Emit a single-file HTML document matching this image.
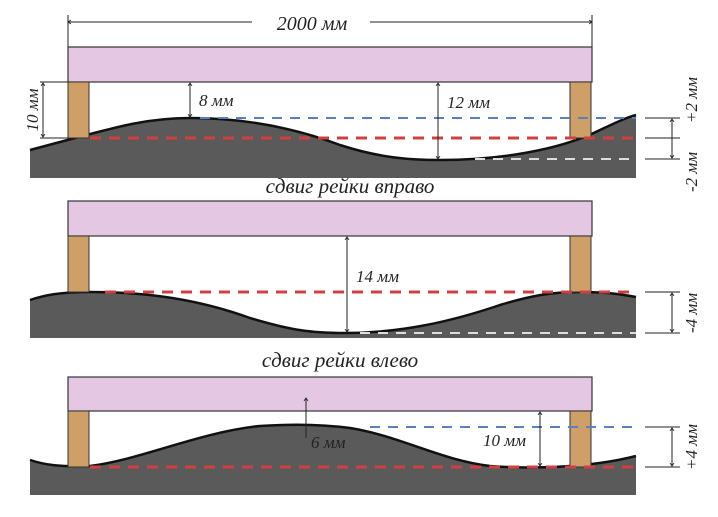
<!DOCTYPE html>
<html><head><meta charset="utf-8"><style>
html,body{margin:0;padding:0;background:#fff;}
svg{display:block;}
text{font-family:"Liberation Serif",serif;font-style:italic;fill:#222;}
</style></head><body>
<svg width="718" height="517" viewBox="0 0 718 517" xmlns="http://www.w3.org/2000/svg">
<defs>
<marker id="a" markerWidth="6" markerHeight="6" refX="3" refY="3" orient="auto-start-reverse"><path d="M0,1 L3,3 L0,5" fill="none" stroke="#222" stroke-width="0.8"/></marker>
</defs>
<!-- top dimension -->
<line x1="68" y1="22" x2="252" y2="22" stroke="#222" stroke-width="1" marker-start="url(#a)"/>
<line x1="370" y1="22" x2="592" y2="22" stroke="#222" stroke-width="1" marker-end="url(#a)"/>
<line x1="68" y1="15" x2="68" y2="47" stroke="#222"/>
<line x1="592" y1="15" x2="592" y2="47" stroke="#222"/>
<text x="312" y="30" font-size="20" text-anchor="middle">2000 мм</text>

<!-- PANEL 1 -->
<rect x="68" y="47" width="524" height="35" fill="#e3c7e3" stroke="#333" stroke-width="1.2"/>
<path d="M30,150 C45,146 60,142 75,138 C120,126 150,118 190,118 C250,118 300,130 340,145 C380,158 410,160 440,160 C500,160 560,150 600,130 C615,123 625,118 636,115 L636,178 L30,178 Z" fill="#5a5a5a"/>
<path d="M30,150 C45,146 60,142 75,138 C120,126 150,118 190,118 C250,118 300,130 340,145 C380,158 410,160 440,160 C500,160 560,150 600,130 C615,123 625,118 636,115" fill="none" stroke="#111" stroke-width="2.5"/>
<rect x="68" y="82" width="21" height="56" fill="#cf9f68" stroke="#333"/>
<rect x="570" y="82" width="21" height="56" fill="#cf9f68" stroke="#333"/>
<line x1="200" y1="118" x2="636" y2="118" stroke="#5a7fc0" stroke-width="2" stroke-dasharray="10,8"/>
<line x1="90" y1="138" x2="636" y2="138" stroke="#d04040" stroke-width="3" stroke-dasharray="11,8"/>
<line x1="475" y1="159" x2="636" y2="159" stroke="#ddd" stroke-width="2" stroke-dasharray="10,8"/>
<line x1="40" y1="82" x2="68" y2="82" stroke="#222"/>
<line x1="40" y1="138" x2="68" y2="138" stroke="#222"/>
<line x1="43" y1="83" x2="43" y2="137" stroke="#222" marker-start="url(#a)" marker-end="url(#a)"/>
<text transform="translate(38,110) rotate(-90)" font-size="17" text-anchor="middle">10 мм</text>
<line x1="190" y1="83" x2="190" y2="117" stroke="#222" marker-start="url(#a)" marker-end="url(#a)"/>
<text x="199" y="106" font-size="17">8 мм</text>
<line x1="438" y1="83" x2="438" y2="159" stroke="#222" marker-start="url(#a)" marker-end="url(#a)"/>
<text x="447" y="108" font-size="17">12 мм</text>
<line x1="645" y1="118" x2="680" y2="118" stroke="#222"/>
<line x1="645" y1="138" x2="680" y2="138" stroke="#222"/>
<line x1="645" y1="159" x2="680" y2="159" stroke="#222"/>
<line x1="672" y1="119" x2="672" y2="158" stroke="#222" marker-start="url(#a)" marker-end="url(#a)"/>
<text transform="translate(697,100) rotate(-90)" font-size="17" text-anchor="middle">+2 мм</text>
<text transform="translate(697,172) rotate(-90)" font-size="17" text-anchor="middle">-2 мм</text>
<text x="350" y="193" font-size="21" text-anchor="middle">сдвиг рейки вправо</text>

<!-- PANEL 2 -->
<rect x="68" y="201" width="524" height="35" fill="#e3c7e3" stroke="#333" stroke-width="1.2"/>
<path d="M30,300 C45,295 60,292 90,292 C150,292 200,300 250,318 C290,330 310,333 345,333 C400,333 450,322 500,305 C530,296 550,292 580,292 C605,292 620,294 636,297 L636,338 L30,338 Z" fill="#5a5a5a"/>
<path d="M30,300 C45,295 60,292 90,292 C150,292 200,300 250,318 C290,330 310,333 345,333 C400,333 450,322 500,305 C530,296 550,292 580,292 C605,292 620,294 636,297" fill="none" stroke="#111" stroke-width="2.5"/>
<rect x="68" y="236" width="21" height="56" fill="#cf9f68" stroke="#333"/>
<rect x="570" y="236" width="21" height="56" fill="#cf9f68" stroke="#333"/>
<line x1="105" y1="292" x2="636" y2="292" stroke="#d04040" stroke-width="3" stroke-dasharray="11,8"/>
<line x1="360" y1="333" x2="636" y2="333" stroke="#ddd" stroke-width="2" stroke-dasharray="10,8"/>
<line x1="347" y1="237" x2="347" y2="332" stroke="#222" marker-start="url(#a)" marker-end="url(#a)"/>
<text x="356" y="282" font-size="17">14 мм</text>
<line x1="645" y1="292" x2="680" y2="292" stroke="#222"/>
<line x1="645" y1="333" x2="680" y2="333" stroke="#222"/>
<line x1="672" y1="293" x2="672" y2="332" stroke="#222" marker-start="url(#a)" marker-end="url(#a)"/>
<text transform="translate(697,313) rotate(-90)" font-size="17" text-anchor="middle">-4 мм</text>
<text x="340" y="367" font-size="21" text-anchor="middle">сдвиг рейки влево</text>

<!-- PANEL 3 -->
<rect x="68" y="377" width="524" height="34" fill="#e3c7e3" stroke="#333" stroke-width="1.2"/>
<path d="M30,460 C45,465 60,467 90,466 C140,460 200,432 260,426 C290,424 320,424 350,428 C400,436 440,460 490,466 C530,469 590,468 636,456 L636,495 L30,495 Z" fill="#5a5a5a"/>
<path d="M30,460 C45,465 60,467 90,466 C140,460 200,432 260,426 C290,424 320,424 350,428 C400,436 440,460 490,466 C530,469 590,468 636,456" fill="none" stroke="#111" stroke-width="2.5"/>
<rect x="68" y="411" width="21" height="56" fill="#cf9f68" stroke="#333"/>
<rect x="570" y="411" width="21" height="56" fill="#cf9f68" stroke="#333"/>
<line x1="370" y1="427" x2="636" y2="427" stroke="#5a7fc0" stroke-width="2" stroke-dasharray="10,8"/>
<line x1="90" y1="467" x2="636" y2="467" stroke="#d04040" stroke-width="3" stroke-dasharray="11,8"/>
<line x1="306" y1="398" x2="306" y2="438" stroke="#222" marker-start="url(#a)"/>
<text x="311" y="448" font-size="17">6 мм</text>
<line x1="540" y1="412" x2="540" y2="466" stroke="#222" marker-start="url(#a)" marker-end="url(#a)"/>
<text x="483" y="446" font-size="17">10 мм</text>
<line x1="645" y1="427" x2="680" y2="427" stroke="#222"/>
<line x1="645" y1="467" x2="680" y2="467" stroke="#222"/>
<line x1="672" y1="428" x2="672" y2="466" stroke="#222" marker-start="url(#a)" marker-end="url(#a)"/>
<text transform="translate(697,447) rotate(-90)" font-size="17" text-anchor="middle">+4 мм</text>
</svg>
</body></html>
